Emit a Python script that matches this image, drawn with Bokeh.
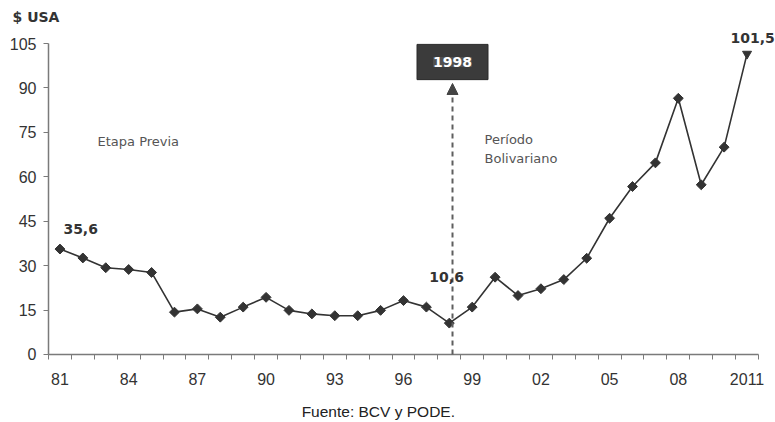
import math
from bokeh.plotting import figure
from bokeh.models import (ColumnDataSource, Range1d, FixedTicker, Label, Arrow,
                          NormalHead, BoxAnnotation)
from bokeh.embed import file_html
from bokeh.resources import INLINE

years = list(range(1981, 2012))
prices = [35.6, 32.6, 29.3, 28.7, 27.7, 14.3, 15.4, 12.6, 16.0, 19.3,
          14.9, 13.7, 13.1, 13.1, 14.9, 18.2, 16.0, 10.6, 16.0, 26.1,
          19.9, 22.2, 25.3, 32.5, 46.0, 56.7, 64.7, 86.5, 57.3, 70.0, 101.5]
y_ticks = [0, 15, 30, 45, 60, 75, 90, 105]
x_label_years = [1981, 1984, 1987, 1990, 1993, 1996, 1999, 2002, 2005, 2008, 2011]
x_label_text = ["81", "84", "87", "90", "93", "96", "99", "02", "05", "08", "2011"]
event_year = 1998
event_label = "1998"

n = len(years)
src = ColumnDataSource(dict(
    x=years, y=prices,
    m=["square"] * (n - 1) + ["inverted_triangle"],
    a=[math.pi / 4] * (n - 1) + [0.0],
    s=[7] * (n - 1) + [9],
))

x0, x1 = years[0] - 0.5, years[-1] + 0.5
y0, y1 = y_ticks[0], y_ticks[-1]

p = figure(width=775, height=422, output_backend="svg", toolbar_location=None,
           x_range=Range1d(1978.404, 2012.243), y_range=Range1d(-22.96, 119.52))
p.min_border = 0
p.min_border_left = 0
p.min_border_right = 0
p.min_border_top = 0
p.min_border_bottom = 0
p.outline_line_color = None
p.xgrid.visible = False
p.ygrid.visible = False
p.background_fill_color = "white"
p.border_fill_color = "white"

dark = "#333333"
p.line("x", "y", source=src, line_color=dark, line_width=1.6)
p.scatter("x", "y", source=src, marker="m", size="s", angle="a",
          fill_color=dark, line_color=dark)

# y axis
ya = p.yaxis[0]
ya.fixed_location = x0
ya.bounds = (y0, y1)
ya.ticker = FixedTicker(ticks=y_ticks)
ya.axis_line_color = "#7a7a7a"
ya.axis_line_width = 1.5
ya.major_tick_line_color = "#7a7a7a"
ya.major_tick_out = 5
ya.major_tick_in = 0
ya.minor_tick_line_color = None
ya.major_label_text_font = "Liberation Sans"
ya.major_label_text_font_size = "16px"
ya.major_label_text_color = "#333333"
ya.major_label_standoff = 7

# x axis
edges = [y - 0.5 for y in years] + [years[-1] + 0.5]
xa = p.xaxis[0]
xa.fixed_location = y0
xa.bounds = (x0, x1)
xa.ticker = FixedTicker(ticks=x_label_years, minor_ticks=edges)
xa.major_label_overrides = {yr: t for yr, t in zip(x_label_years, x_label_text)}
xa.axis_line_color = "#7a7a7a"
xa.axis_line_width = 1.5
xa.major_tick_line_color = None
xa.minor_tick_line_color = "#7a7a7a"
xa.minor_tick_out = 5
xa.minor_tick_in = 0
xa.major_label_text_font = "Liberation Sans"
xa.major_label_text_font_size = "16px"
xa.major_label_text_color = "#333333"
xa.major_label_standoff = 13

# event arrow and box
ex = event_year + 0.14
p.add_layout(Arrow(x_start=ex, y_start=0, x_end=ex, y_end=91.5,
                   line_color="#5e5e5e", line_width=2, line_dash="5 4",
                   end=NormalHead(size=11, fill_color="#444444",
                                  line_color="#444444")))
p.add_layout(BoxAnnotation(left=ex - 1.55, right=ex + 1.55, bottom=92.8,
                           top=104.7, fill_color="#3b3b3b", fill_alpha=1,
                           line_color="#2a2a2a", line_alpha=1))
p.add_layout(Label(x=ex, y=98.75, text=event_label, text_align="center",
                   text_baseline="middle", text_color="white",
                   text_font="DejaVu Sans", text_font_style="bold",
                   text_font_size="14px", background_fill_color="#505050"))

bold = dict(text_font="DejaVu Sans", text_font_style="bold",
            text_font_size="14px", text_color="#333333",
            text_baseline="middle", text_align="left")
p.add_layout(Label(x=1978.93, y=113.8, text="$ USA", **bold))
p.add_layout(Label(x=1981.15, y=42.5, text="35,6", **bold))
p.add_layout(Label(x=1997.13, y=26.0, text="10,6", **bold))
p.add_layout(Label(x=2010.28, y=107.0, text="101,5", **bold))

reg = dict(text_font="DejaVu Sans", text_font_size="13px", text_color="#555555",
           text_baseline="middle", text_align="left")
p.add_layout(Label(x=1982.64, y=71.9, text="Etapa Previa", **reg))
p.add_layout(Label(x=1999.54, y=72.6, text="Período", **reg))
p.add_layout(Label(x=1999.54, y=66.2, text="Bolivariano", **reg))

p.add_layout(Label(x=1994.9, y=-19.2, text="Fuente: BCV y PODE.",
                   text_font="Liberation Sans", text_font_size="15.5px",
                   text_color="#222222", text_align="center",
                   text_baseline="middle"))

open("out.html", "w").write(file_html(p, INLINE))
